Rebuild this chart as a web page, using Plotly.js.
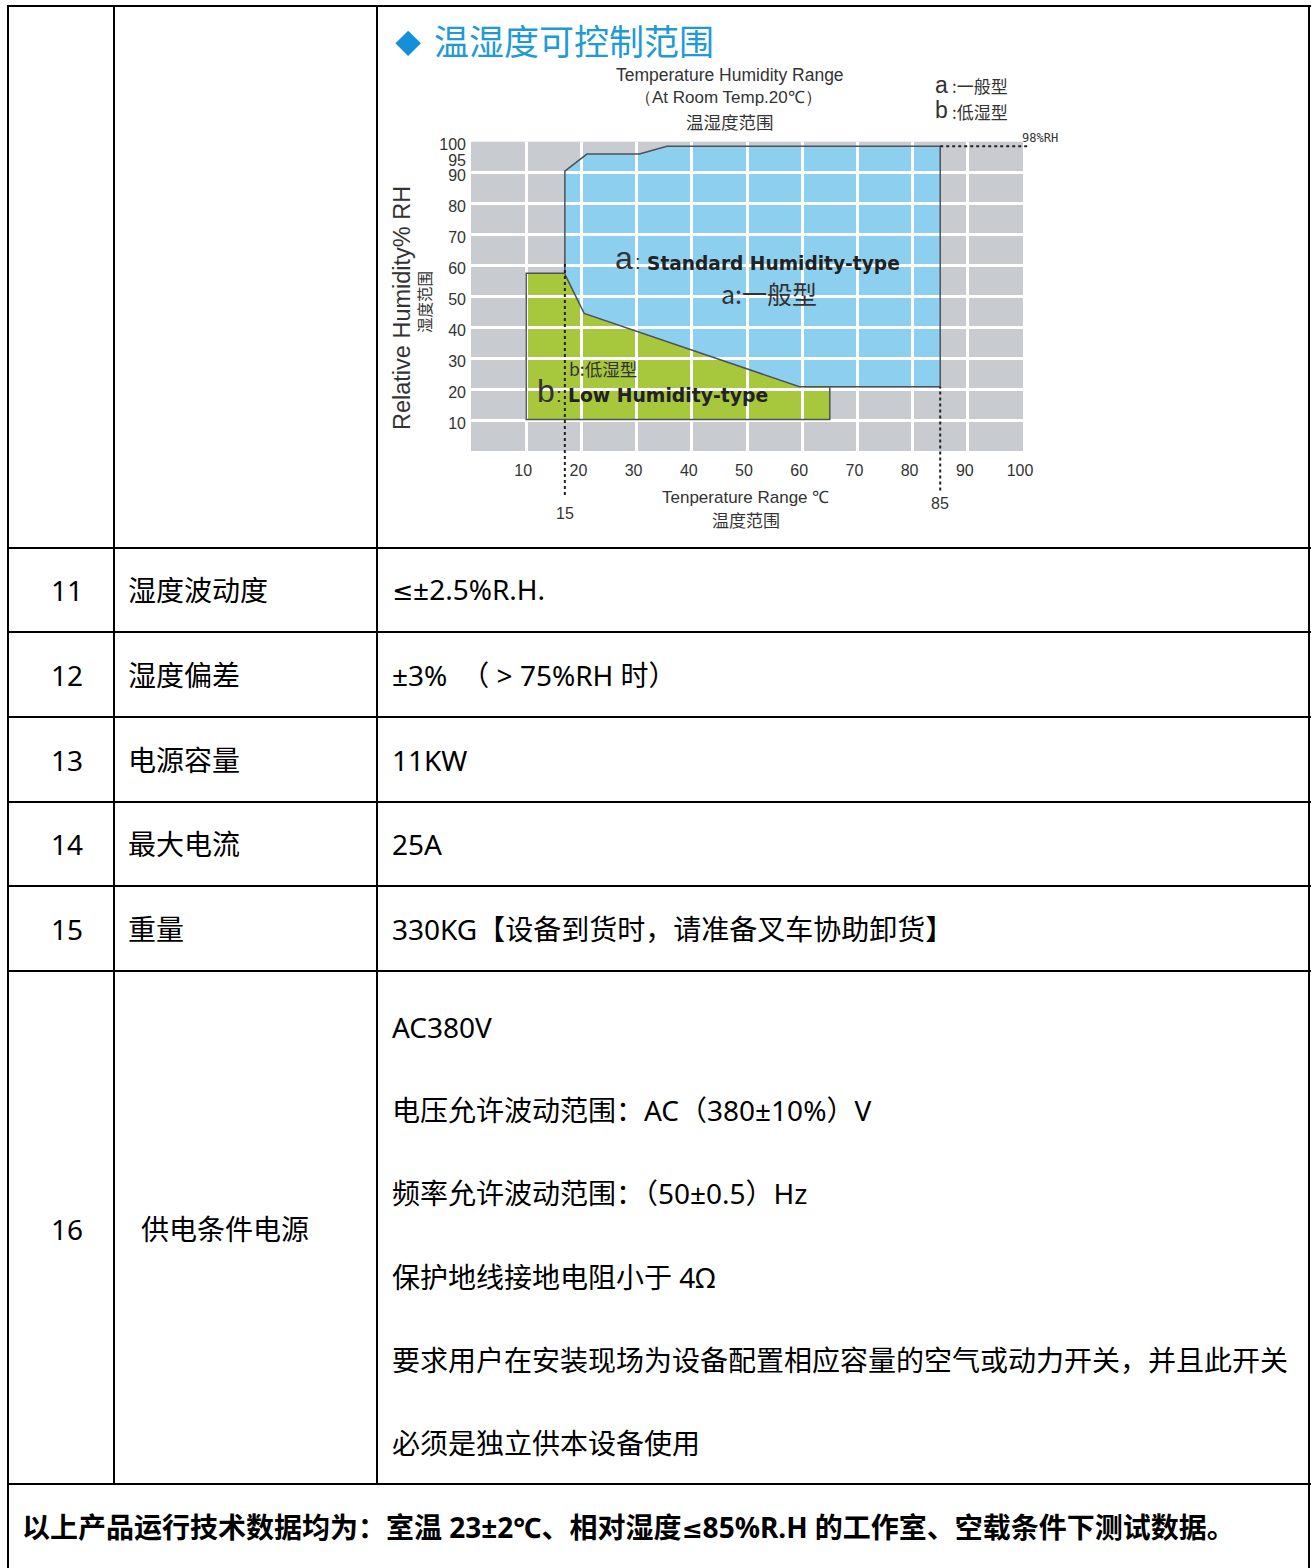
<!DOCTYPE html>
<html><head><meta charset="utf-8">
<script src="https://cdn.plot.ly/plotly-3.0.1.min.js"></script>
<style>
body{margin:0;background:#fff;}
#page{position:relative;width:1314px;height:1568px;overflow:hidden;font-family:"Noto Sans","Noto Sans CJK SC",sans-serif;color:#000;}
.h{position:absolute;height:2px;background:#000;}
.v{position:absolute;width:2px;background:#000;}
.t{position:absolute;font-size:28px;line-height:1;white-space:nowrap;transform:translateY(-50%);}
.c{transform:translate(-50%,-50%);}
.le{font-family:"DejaVu Sans",sans-serif;font-size:0.9em;}
#chart{position:absolute;left:0;top:0;width:1314px;height:1568px;}
</style></head>
<body>
<div id="page"><div id="chart"></div></div>
<script>
// ---------------- chart data ----------------
const xTicks = [10,20,30,40,50,60,70,80,90,100];
const yTicks = [10,20,30,40,50,60,70,80,90,100];
const yExtraTick = [95];
// a: Standard Humidity-type region (temperature °C, RH %)
const aTemp = [17,17,21,30.5,35.5,85,85,59.5,20.5,17];
const aRH   = [57.2,90.5,96,96,98.5,98.5,20.8,20.8,44.5,57.2];
// b: Low Humidity-type region (rectangle)
const bTemp = [10,10,65,65,10];
const bRH   = [10.2,57.5,57.5,10.2,10.2];
// visible outline of region b
const bEdgeTemp = [17,10,10,65,65];
const bEdgeRH   = [57.5,57.5,10.2,10.2,20.8];
// marker lines
const lowTempMark = 17, lowTempLabel = '15', lowTempTopRH = 61;
const highTempMark = 85, highTempLabel = '85', highTempTopRH = 20.8;
const maxRH = 98.5, maxRHLabel = '98%RH';

// ---------------- table data ----------------
const rowNums = ['11','12','13','14','15'];
const rowNames = ['湿度波动度','湿度偏差','电源容量','最大电流','重量'];
const rowValues = ['≤±2.5%R.H.','±3%　（ > 75%RH  时）','11KW','25A','330KG【设备到货时，请准备叉车协助卸货】'];
const row16Num = '16';
const row16Name = '供电条件电源';
const row16Lines = ['AC380V','电压允许波动范围：AC（380±10%）V','频率允许波动范围：（50±0.5）Hz','保护地线接地电阻小于 4Ω','要求用户在安装现场为设备配置相应容量的空气或动力开关，并且此开关','必须是独立供本设备使用'];
const footer = '以上产品运行技术数据均为：室温 23±2℃、相对湿度≤85%R.H 的工作室、空载条件下测试数据。';

// ---------------- table drawing ----------------
const page = document.getElementById('page');
function esc(s){return s.replace(/&/g,'&amp;').replace(/</g,'&lt;').replace(/>/g,'&gt;').replace(/≤/g,'<span class="le">≤</span>');}
function add(cls, style, text){const d=document.createElement('div');d.className=cls;Object.assign(d.style,style);if(text!==undefined)d.innerHTML=esc(text);page.appendChild(d);return d;}
const rowLines = [5,547,631,716,801,885,970,1483];
rowLines.forEach((y,i)=>add('h',{left:'7px',width:'1304px',top:y+'px'}));
add('v',{left:'7px',top:'5px',height:'1563px'});
add('v',{left:'1308px',top:'5px',height:'1563px'});
add('v',{left:'113px',top:'5px',height:'1480px'});
add('v',{left:'376px',top:'5px',height:'1480px'});
const rowCenters = [590,675,760,844,929];
rowNums.forEach((n,i)=>{
  add('t c',{left:'67px',top:rowCenters[i]+'px'},n);
  add('t',{left:'128px',top:rowCenters[i]+'px'},rowNames[i]);
  add('t',{left:'392px',top:rowCenters[i]+'px'},rowValues[i]);
});
add('t c',{left:'67px',top:'1229px'},row16Num);
add('t',{left:'141px',top:'1229px'},row16Name);
const r16y=[1027,1110,1193,1277,1360,1443];
row16Lines.forEach((s,i)=>add('t',{left:'392px',top:r16y[i]+'px'},s));
add('t',{left:'22px',top:'1528px',fontWeight:'bold'},footer);

// ---------------- plotly chart ----------------
const W=1314,H=1568;
const px=x=>x/W, py=y=>1-y/H;
const GRAY='#c8cbd0', BLUE='#8dcfee', GREEN='#a7c73d', EDGE='#4c5258', TXT='#333';
const pathOf=(xs,ys)=>xs.map((x,i)=>(i?'L':'M')+x+','+ys[i]).join(' ')+' Z';

const traces=[
  {type:'scatter',mode:'lines',x:bEdgeTemp,y:bEdgeRH,line:{color:EDGE,width:1.5},hoverinfo:'skip',showlegend:false},
  {type:'scatter',mode:'lines',x:aTemp,y:aRH,line:{color:EDGE,width:1.5},hoverinfo:'skip',showlegend:false},
  {type:'scatter',mode:'lines',x:[],y:[],yaxis:'y2',showlegend:false}
];

const shapes=[
  {type:'path',xref:'x',yref:'y',layer:'below',path:pathOf(bTemp,bRH),fillcolor:GREEN,line:{width:0}},
  {type:'path',xref:'x',yref:'y',layer:'below',path:pathOf(aTemp,aRH),fillcolor:BLUE,line:{width:0}},
  {type:'line',xref:'x',yref:'y domain',x0:lowTempMark,x1:lowTempMark,y0:-0.142,y1:lowTempTopRH/100,line:{color:'#222',width:2,dash:'dot'}},
  {type:'line',xref:'x',yref:'y domain',x0:highTempMark,x1:highTempMark,y0:-0.128,y1:highTempTopRH/100,line:{color:'#222',width:2,dash:'dot'}},
  {type:'line',xref:'x domain',yref:'y',x0:highTempMark/100,x1:1.01,y0:maxRH,y1:maxRH,line:{color:'#222',width:2,dash:'dot'}}
];

const F='Liberation Sans, Arial, sans-serif', CJK='Noto Sans CJK SC, sans-serif', BOLD='DejaVu Sans, sans-serif';
function ann(text,x,y,size,opt={}){
  return Object.assign({text:text,x:px(x),y:py(y),xref:'paper',yref:'paper',showarrow:false,
    xanchor:'center',yanchor:'middle',font:{size:size,family:F,color:TXT}},opt);
}
const annotations=[
  ann('◆',408,41,26,{font:{size:26,family:CJK,color:'#1490d8'}}),
  ann('温湿度可控制范围',574,40,35,{font:{size:35,family:CJK,color:'#1f9ad6'}}),
  ann('Temperature Humidity Range',730,75,17.5),
  ann('（At Room Temp.20℃）',728,97,17),
  ann('温湿度范围',730,121,17.5,{font:{size:17.5,family:CJK,color:TXT}}),
  ann('a',941,85,23,{}),
  ann(':一般型',950,86,17,{xanchor:'left',font:{size:17,family:CJK,color:TXT}}),
  ann('b',941,110,23,{}),
  ann(':低湿型',950,111,17,{xanchor:'left',font:{size:17,family:CJK,color:TXT}}),
  ann(maxRHLabel,1040,138,12,{font:{size:12,family:'DejaVu Sans Mono, monospace',color:TXT}}),
  ann('Relative Humidity% RH',402,308,23.5,{textangle:-90}),
  ann('湿度范围',424,302,15.5,{textangle:-90,font:{size:15.5,family:CJK,color:TXT}}),
  ann('Tenperature Range ℃',745,497,17),
  ann('温度范围',746,519,17,{font:{size:17,family:CJK,color:TXT}}),
  {text:lowTempLabel,x:lowTempMark,xref:'x',y:py(513),yref:'paper',showarrow:false,xanchor:'center',yanchor:'middle',font:{size:16,family:F,color:TXT}},
  {text:highTempLabel,x:highTempMark,xref:'x',y:py(503),yref:'paper',showarrow:false,xanchor:'center',yanchor:'middle',font:{size:16,family:F,color:TXT}},
  ann('a',624,258,32),
  ann(':',638,262,20),
  ann('Standard Humidity-type',645,263,18.6,{xanchor:'left',font:{size:18.6,family:BOLD,color:'#222',weight:'bold'}}),
  ann('a:一般型',769,293,25,{font:{size:25,family:CJK,color:TXT}}),
  ann('b:低湿型',567,368,17.5,{xanchor:'left',font:{size:17.5,family:CJK,color:TXT}}),
  ann('b',546,391,32),
  ann(':',559,395,20),
  ann('Low Humidity-type',566,395,18.8,{xanchor:'left',font:{size:18.8,family:BOLD,color:'#222',weight:'bold'}})
];

const xdom=[px(471),px(1023)], ydom=[py(451),py(141.7)];
const layout={
  width:W,height:H,margin:{l:0,r:0,t:0,b:0},
  paper_bgcolor:'rgba(0,0,0,0)',plot_bgcolor:GRAY,showlegend:false,
  xaxis:{domain:xdom,range:[0,100],tickvals:xTicks,ticktext:xTicks.map(String),showgrid:true,gridcolor:'#fff',gridwidth:3,
    zeroline:false,showline:false,ticks:'',ticklabelstandoff:8,ticklabelshift:-3,tickfont:{size:16,family:F,color:TXT},fixedrange:true},
  yaxis:{domain:ydom,range:[0,100],tickvals:yTicks,ticktext:yTicks.map(String),showgrid:true,gridcolor:'#fff',gridwidth:3,
    zeroline:false,showline:false,ticks:'',ticklabelstandoff:4,ticklabelshift:3,tickfont:{size:16,family:F,color:TXT},fixedrange:true},
  yaxis2:{overlaying:'y',side:'left',range:[0,100],tickvals:yExtraTick,ticktext:yExtraTick.map(String),showgrid:false,
    zeroline:false,showline:false,ticks:'',ticklabelstandoff:4,ticklabelshift:3,tickfont:{size:16,family:F,color:TXT},fixedrange:true},
  shapes:shapes,annotations:annotations
};
Plotly.newPlot('chart',traces,layout,{staticPlot:true,displayModeBar:false});
</script>
</body></html>
